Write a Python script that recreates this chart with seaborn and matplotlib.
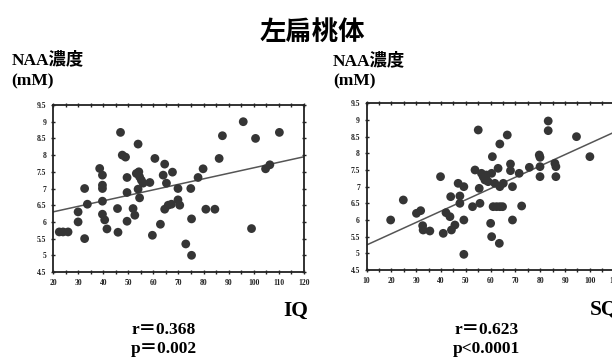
import pandas as pd
import seaborn as sns
import matplotlib.pyplot as plt
import numpy as np

# Datos: IQ vs NAA
iq_x = [22.5, 24, 26, 30, 30, 32.6, 32.6, 33.7, 38.6, 39.7, 39.7, 39.7, 39.7, 39.7,
        40.6, 41.5, 45.7, 45.9, 46.9, 47.6, 48.9, 49.5, 49.5, 49.5, 51.9, 52.6,
        53.9, 53.2, 54.2, 54.5, 55.2, 53.9, 54.5, 55.9, 58.6, 59.6, 60.6, 62.8,
        64.5, 63.9, 65.2, 64.5, 65.9, 67.2, 67.6, 69.8, 69.8, 70.5, 72.9, 74.9,
        75.2, 75.2, 77.8, 79.8, 80.9, 84.5, 86.2, 87.5, 95.8, 99.1, 100.7, 104.7,
        106.4, 110.2]
iq_naa = [5.7, 5.7, 5.7, 6.0, 6.3, 7.0, 5.5, 6.53, 7.6, 7.4, 7.1, 7.0, 6.62, 6.23,
          6.06, 5.79, 6.4, 5.69, 8.68, 8.0, 7.94, 6.88, 6.02, 7.33, 6.4, 6.2,
          8.33, 7.45, 7.5, 7.35, 7.25, 6.98, 6.72, 7.16, 7.18, 5.6, 7.9, 5.93,
          7.73, 7.4, 7.16, 6.38, 6.5, 6.53, 7.49, 7.0, 6.66, 6.5, 5.34, 7.0,
          6.09, 5.0, 7.33, 7.59, 6.38, 6.38, 7.9, 8.58, 9.0, 5.8, 8.5, 7.59,
          7.71, 8.68]

# Datos: SQ vs NAA
sq_x = [19.7, 24.8, 30.1, 31.8, 32.6, 32.8, 35.5, 39.8, 40.9, 42.0, 43.6, 43.9,
        44.2, 45.6, 46.9, 47.6, 47.6, 49.2, 49.2, 49.2, 52.7, 55.0, 53.7, 55.7,
        55.4, 56.3, 57.0, 57.7, 58.3, 59.0, 58.0, 60.4, 60.7, 60.0, 60.4, 61.0,
        62.4, 63.7, 64.8, 61.7, 63.0, 63.5, 63.7, 63.7, 65.1, 66.7, 68.0, 68.0,
        68.8, 68.8, 71.5, 72.5, 75.6, 79.6, 79.9, 79.9, 79.9, 83.2, 83.2, 85.9,
        86.3, 86.3, 94.6, 100]
sq_naa = [6.0, 6.6, 6.2, 6.28, 5.83, 5.7, 5.67, 7.3, 5.6, 6.22, 6.1, 6.7,
          5.7, 5.85, 7.1, 6.72, 6.5, 7.0, 6.0, 4.97, 6.4, 8.7, 7.5, 6.5,
          6.95, 7.4, 7.3, 7.2, 7.35, 7.15, 7.25, 7.4, 7.9, 5.9, 5.5, 6.4,
          6.4, 6.4, 6.4, 7.1, 7.55, 5.3, 8.28, 7.0, 7.1, 8.55, 7.68, 7.48,
          7.0, 6.0, 7.4, 6.42, 7.58, 7.95, 7.88, 7.6, 7.3, 8.97, 8.68, 7.7,
          7.6, 7.3, 8.5, 7.9]

# Rectas de regresion (extremos)
iq_fit_x = [20, 120]
iq_fit_y = [6.3, 7.95]
sq_fit_x = [10, 110]
sq_fit_y = [5.25, 8.64]

df_iq = pd.DataFrame({"IQ": iq_x, "NAA": iq_naa})
df_sq = pd.DataFrame({"SQ": sq_x, "NAA": sq_naa})

sns.set_style("ticks")
plt.rcParams["font.family"] = ["Liberation Serif", "Noto Sans CJK JP"]
plt.rcParams["text.color"] = "black"

fig = plt.figure(figsize=(6.12, 3.58), dpi=100)
ax1 = fig.add_axes([0.0866, 0.2402, 0.4101, 0.4665])
ax2 = fig.add_axes([0.599, 0.2458, 0.4054, 0.4656])

paneles = [
    (ax1, df_iq, "IQ", iq_fit_x, iq_fit_y, (20, 120), np.arange(20, 121, 10)),
    (ax2, df_sq, "SQ", sq_fit_x, sq_fit_y, (10, 110), np.arange(10, 111, 10)),
]

for ax, df, col, fx, fy, xlim, xt in paneles:
    ax.plot(fx, fy, color="#555555", lw=1.1, zorder=1)
    sns.scatterplot(data=df, x=col, y="NAA", ax=ax, s=40, color="#353535",
                    edgecolor="none", zorder=2)
    ax.set_xlim(*xlim)
    ax.set_ylim(4.5, 9.5)
    ax.set_xticks(xt)
    ax.set_xticks(np.arange(xlim[0], xlim[1] + 1, 5), minor=True)
    ax.set_yticks(np.arange(4.5, 9.51, 0.5))
    ax.set_yticklabels([f"{v:g}" for v in np.arange(4.5, 9.51, 0.5)])
    ax.set_xlabel("")
    ax.set_ylabel("")
    for s in ax.spines.values():
        s.set_linewidth(1.3)
        s.set_color("#222222")
    ax.tick_params(which="both", direction="inout", top=True, right=True,
                   labelsize=5.5, width=1, pad=3, colors="#222222")
    ax.tick_params(which="major", length=3.5)
    ax.tick_params(which="minor", length=2.5)
    for t in ax.get_xticklabels() + ax.get_yticklabels():
        t.set_fontweight("bold")

# Textos
fig.text(0.51, 0.91, "左扁桃体", ha="center", va="center", fontsize=19,
         fontweight="bold", family=["Noto Sans CJK JP"])
bold = dict(fontweight="bold", family=["Liberation Serif", "Noto Sans CJK JP"])
fig.text(0.019, 0.832, "NAA濃度", ha="left", va="center", fontsize=12.5, **bold)
fig.text(0.019, 0.773, "(mM)", ha="left", va="center", fontsize=12.5, **bold)
fig.text(0.544, 0.830, "NAA濃度", ha="left", va="center", fontsize=12.5, **bold)
fig.text(0.544, 0.773, "(mM)", ha="left", va="center", fontsize=12.5, **bold)
fig.text(0.504, 0.131, "IQ", ha="right", va="center", fontsize=15.5, **bold)
fig.text(0.964, 0.134, "SQ", ha="left", va="center", fontsize=15.5, **bold)
fig.text(0.268, 0.078, "r＝0.368", ha="center", va="center", fontsize=12.5, **bold)
fig.text(0.268, 0.025, "p＝0.002", ha="center", va="center", fontsize=12.5, **bold)
fig.text(0.795, 0.078, "r＝0.623", ha="center", va="center", fontsize=12.5, **bold)
fig.text(0.795, 0.025, "p<0.0001", ha="center", va="center", fontsize=12.5, **bold)

plt.savefig("out.png", dpi=100)
